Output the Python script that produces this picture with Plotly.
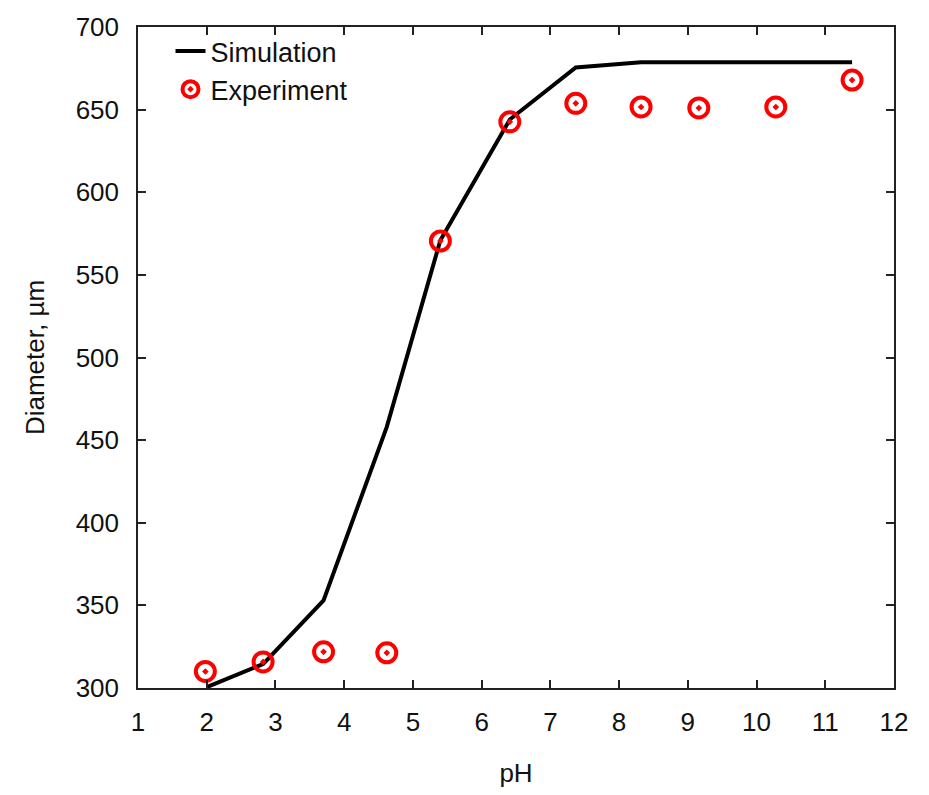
import plotly.graph_objects as go

sim_ph = [2.0, 2.82, 3.70, 4.62, 5.40, 6.41, 7.37, 8.32, 9.16, 10.28, 11.39]
sim_d = [300.5, 314.5, 353, 458, 571, 644, 675.5, 678.7, 678.7, 678.7, 678.7]

exp_ph = [1.98, 2.82, 3.70, 4.62, 5.40, 6.41, 7.37, 8.32, 9.16, 10.28, 11.39]
exp_d = [310, 315.8, 321.9, 321.3, 570.5, 642.6, 653.8, 651.6, 651, 651.6, 667.9]

x_ticks = list(range(1, 13))
y_ticks = list(range(300, 701, 50))

font_family = "Liberation Sans, Arial, sans-serif"

fig = go.Figure()
fig.add_trace(go.Scatter(
    x=sim_ph, y=sim_d, mode="lines", name="Simulation",
    line=dict(color="black", width=4),
))
fig.add_trace(go.Scatter(
    x=exp_ph, y=exp_d, mode="markers", name="Experiment",
    marker=dict(symbol="circle-open-dot", size=19, color="red",
                line=dict(color="red", width=4)),
))

axis_common = dict(
    showgrid=False, zeroline=False, showline=True, linecolor="#222",
    linewidth=1.5, mirror="ticks", ticks="inside", ticklen=8,
    tickcolor="#222", tickwidth=1.5,
    tickfont=dict(family=font_family, size=26, color="#111"),
)

fig.update_layout(
    width=929, height=795,
    margin=dict(l=138, r=35, t=24, b=107),
    paper_bgcolor="white", plot_bgcolor="white",
    font=dict(family=font_family, color="#111"),
    xaxis=dict(range=[1, 12], tickvals=x_ticks, ticklabelstandoff=10,
               title=dict(text="pH", font=dict(size=26), standoff=28),
               **axis_common),
    yaxis=dict(range=[300, 700], tickvals=y_ticks, ticklabelstandoff=12,
               title=dict(text="Diameter, µm", font=dict(size=26), standoff=24),
               **axis_common),
    legend=dict(x=0.043, y=1.0, xanchor="left", yanchor="top",
                bgcolor="rgba(0,0,0,0)", font=dict(size=27, family=font_family),
                itemwidth=30, tracegroupgap=0),
)

fig.write_html("out.html")
